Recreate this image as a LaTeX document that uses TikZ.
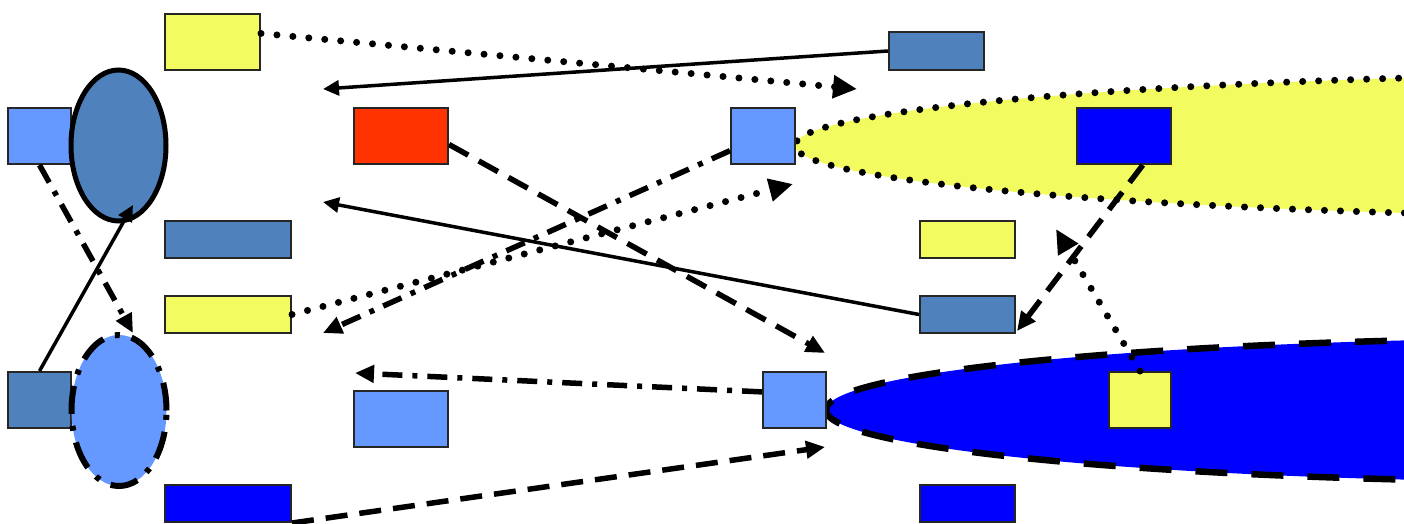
\documentclass[tikz,border=0pt]{standalone}
\usetikzlibrary{arrows.meta,shapes.geometric}
\definecolor{steel}{RGB}{79,129,189}
\definecolor{sky}{RGB}{102,153,255}
\definecolor{lemon}{RGB}{242,252,96}
\definecolor{tomato}{RGB}{255,51,0}
\definecolor{royal}{RGB}{0,0,255}
\begin{document}
\begin{tikzpicture}[x=1pt,y=-1pt,
  box/.style={draw=black!85,line width=2pt,inner sep=0pt},
  blob/.style={ellipse,inner sep=0pt,minimum width=95pt,minimum height=151pt},
  solidline/.style={line width=3.5pt,-{Triangle[length=16pt,width=15pt]}},
  dotline/.style={line width=7pt,line cap=round,dash pattern=on 0pt off 16pt,-{Triangle[length=24pt,width=22pt]}},
  dashline/.style={line width=5.5pt,dash pattern=on 22pt off 12pt,-{Triangle[length=19pt,width=17pt]}},
  dashdotline/.style={line width=5.5pt,dash pattern=on 20pt off 10pt on 5pt off 10pt,-{Triangle[length=19pt,width=17pt]}}]
\clip (0,0) rectangle (1404,524);
\useasboundingbox (0,0) rectangle (1404,524);
% big containers
\draw[fill=lemon,line width=7pt,line cap=round,dash pattern=on 0pt off 16pt] (1732,145.5) ellipse [x radius=937pt,y radius=72pt];
\draw[fill=royal,line width=6.5pt,dash pattern=on 32pt off 24pt] (1605,410) ellipse [x radius=779pt,y radius=72pt];
% boxes
\foreach \n/\x/\y/\w/\h/\c in {
  A/212.5/42/95/56/lemon, B/39.5/136/63/56/sky, C/228/239.5/126/37/steel,
  D/228/314.5/126/37/lemon, E/39.5/400/63/56/steel, F/228/503.5/126/37/royal,
  R/401/136/94/56/tomato, M/401/419/94/56/sky, G/936.5/51/95/38/steel,
  H/763/136/64/56/sky, P/967.5/239.5/95/37/lemon, I/967.5/314.5/95/37/steel,
  N/967.5/503.5/95/37/royal, J/1124/136/94/56/royal, L/794.5/400/63/56/sky,
  K/1140/400/62/56/lemon}
  \node[box,fill=\c,minimum width=\w pt,minimum height=\h pt] (\n) at (\x,\y) {};
% small ellipses
\node[blob,draw,fill=steel,line width=5pt] (O) at (118.5,145.5) {};
\node[blob,draw,fill=sky,line width=6pt,dash pattern=on 28pt off 12pt on 5pt off 12pt] (Q) at (119,410.5) {};
% free ends
\coordinate (c1) at (857,89);
\coordinate (c2) at (323,89);
\coordinate (c3) at (825,353);
\coordinate (c4) at (323,333);
\coordinate (c5) at (793,184);
\coordinate (c6) at (323,202);
\coordinate (c7) at (1017,331);
\coordinate (c8) at (1056,229);
\coordinate (c9) at (355,373);
\coordinate (c10) at (825,447);
\coordinate (c11) at (133,333);
\coordinate (c12) at (133,205);
% connectors
\draw[dotline] (A.10) -- (c1);
\draw[solidline] (G.west) -- (c2);
\draw[dashline] (R.-10) -- (c3);
\draw[dashdotline] (H) -- (c4);
\draw[dotline] (D.east) -- (c5);
\draw[solidline] (I.west) -- (c6);
\draw[dashline] (J.-57) -- (c7);
\draw[dotline] (K.north) -- (c8);
\draw[dashdotline] (L.166) -- (c9);
\draw[dashline] (F.south east) -- (c10);
\draw[dashdotline] (B.south) -- (c11);
\draw[solidline] (E.north) -- (c12);
\end{tikzpicture}
\end{document}
